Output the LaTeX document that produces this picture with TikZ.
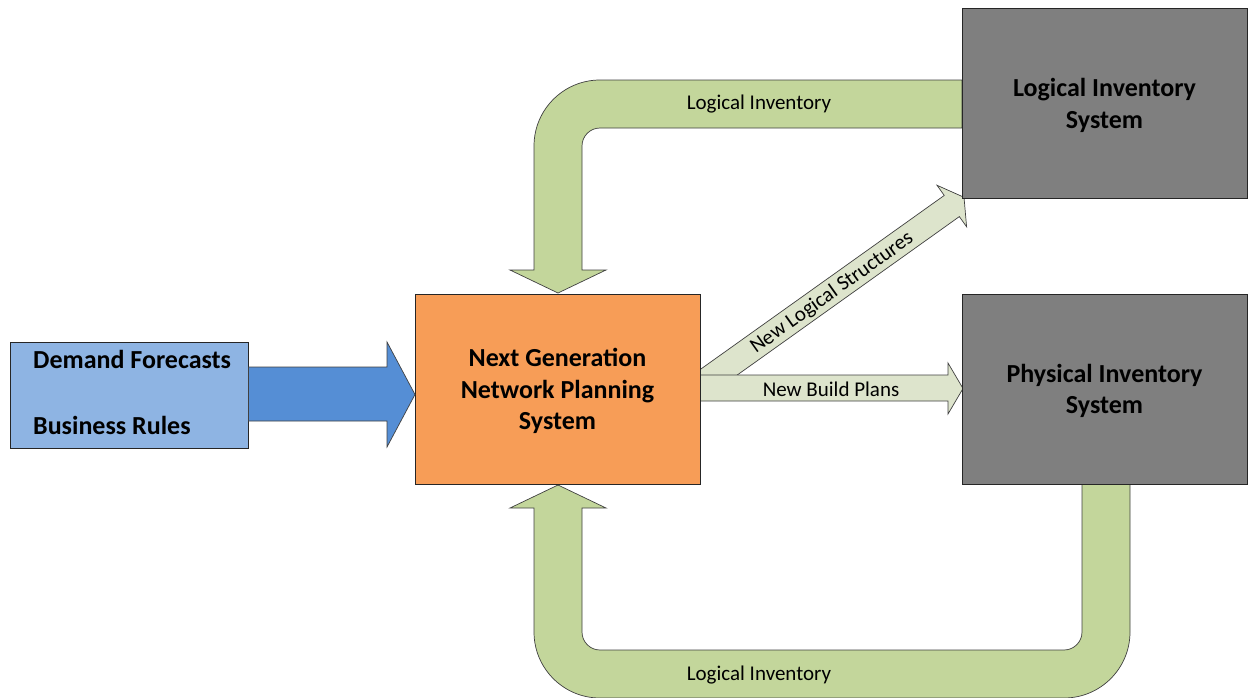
\documentclass[tikz,border=0pt]{standalone}
\usepackage{fontspec}
\setmainfont{Carlito}
\definecolor{inputblue}{HTML}{8EB4E3}
\definecolor{arrowblue}{HTML}{558ED5}
\definecolor{planorange}{HTML}{F79D57}
\definecolor{invgray}{HTML}{7F7F7F}
\definecolor{bandgreen}{HTML}{C3D69B}
\definecolor{flowgreen}{HTML}{DDE4CC}
\begin{document}
\begin{tikzpicture}[x=1pt,y=-1pt,
  sysbox/.style={draw=black!85, line width=0.8pt, minimum width=285pt,
    minimum height=190pt, inner sep=0pt},
  systext/.style={align=center, inner sep=0pt,
    font=\fontsize{26}{31.5}\selectfont\bfseries},
  inbox/.style={draw=black!85, line width=0.8pt, fill=inputblue,
    minimum width=238pt, minimum height=106pt, inner sep=0pt},
  intext/.style={anchor=west, inner sep=0pt, font=\fontsize{26}{31.5}\selectfont\bfseries},
  band/.style={draw=black!75, line width=0.7pt, fill=bandgreen},
  flow/.style={draw=black!75, line width=0.7pt, fill=flowgreen},
  feed/.style={draw=black!75, line width=0.7pt, fill=arrowblue},
  lbl/.style={inner sep=0pt, font=\fontsize{21}{25}\selectfont}]
\useasboundingbox (0,0) rectangle (1249,697);

% feedback from the logical inventory system
\draw[band] (962,80) -- (600,80) arc[start angle=90,end angle=180,radius=66pt]
  -- (534,270) -- (510,270) -- (558,293) -- (606,270) -- (582,270)
  -- (582,146) arc[start angle=180,end angle=90,radius=18pt] -- (962,128) -- cycle;
\node[lbl] (toplbl) at (759,104.5) {Logical Inventory};

% feedback from the physical inventory system
\draw[band] (1082,484) -- (1082,632) arc[start angle=0,end angle=-90,radius=18pt]
  -- (600,650) arc[start angle=-90,end angle=-180,radius=18pt]
  -- (582,508) -- (606,508) -- (558,485) -- (510,508) -- (534,508)
  -- (534,632) arc[start angle=180,end angle=270,radius=66pt]
  -- (1064,698) arc[start angle=270,end angle=360,radius=66pt]
  -- (1130,484) -- cycle;
\node[lbl] (botlbl) at (759,674.5) {Logical Inventory};

% new logical structures (diagonal)
\begin{scope}[shift={(964,197.3)}, rotate=35.5]
  \draw[flow] (0,0) -- (-15,-25.5) -- (-15,-13) -- (-320,-13) -- (-320,13)
    -- (-15,13) -- (-15,25.5) -- cycle;
\end{scope}
\node[lbl, rotate=35.5] (diaglbl) at (832,293) {New Logical Structures};

% new build plans
\draw[flow] (700,375) -- (948,375) -- (948,363) -- (963,388.5) -- (948,414)
  -- (948,401) -- (700,401) -- cycle;
\node[lbl] (buildlbl) at (831,389.5) {New Build Plans};

% boxes
\node[sysbox, fill=planorange] (ngnps) at (557.5,389) {};
\node[sysbox, fill=invgray] (lis) at (1104.5,103.5) {};
\node[sysbox, fill=invgray] (pis) at (1104.5,389) {};
\node[systext] (ngnpstext) at ([yshift=-2pt]ngnps.center) {Next Generation\\Network Planning\\System};
\node[systext] (listext) at ([yshift=-2pt]lis.center) {Logical Inventory\\System};
\node[systext] (pistext) at ([yshift=-2pt]pis.center) {Physical Inventory\\System};

% inputs
\node[inbox] (inputs) at (129,395) {};
\node[intext] (demand) at (33,359) {Demand Forecasts};
\node[intext] (rules) at (33,425) {Business Rules};
\draw[feed] (inputs.east |- 0,367) -- (387,367) -- (387,342) -- (415,394.5)
  -- (387,447) -- (387,421) -- (inputs.east |- 0,421) -- cycle;
\end{tikzpicture}
\end{document}
